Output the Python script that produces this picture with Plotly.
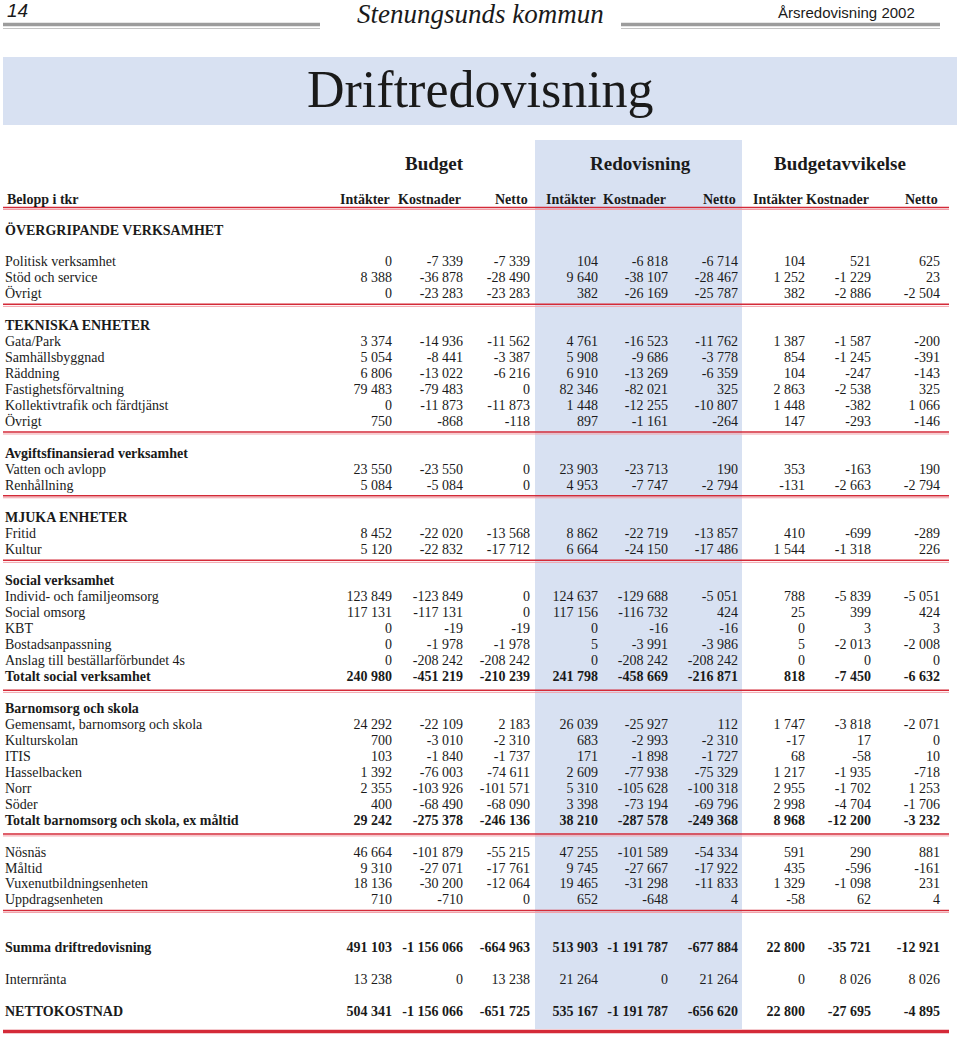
"""Driftredovisning - Stenungsunds kommun, Årsredovisning 2002 (sida 14)."""

import plotly.graph_objects as go

# ---------------------------------------------------------------------------
# Data (tkr)
# ---------------------------------------------------------------------------
ETIKETTER = [
    "ÖVERGRIPANDE VERKSAMHET",
    "Politisk verksamhet", "Stöd och service", "Övrigt",
    "TEKNISKA ENHETER",
    "Gata/Park", "Samhällsbyggnad", "Räddning", "Fastighetsförvaltning",
    "Kollektivtrafik och färdtjänst", "Övrigt",
    "Avgiftsfinansierad verksamhet",
    "Vatten och avlopp", "Renhållning",
    "MJUKA ENHETER",
    "Fritid", "Kultur",
    "Social verksamhet",
    "Individ- och familjeomsorg", "Social omsorg", "KBT", "Bostadsanpassning",
    "Anslag till beställarförbundet 4s", "Totalt social verksamhet",
    "Barnomsorg och skola",
    "Gemensamt, barnomsorg och skola", "Kulturskolan", "ITIS", "Hasselbacken",
    "Norr", "Söder", "Totalt barnomsorg och skola, ex måltid",
    "Nösnäs", "Måltid", "Vuxenutbildningsenheten", "Uppdragsenheten",
    "Summa driftredovisning", "Internränta", "NETTOKOSTNAD",
]

N = None
BUDGET_INTAKTER = [N, 0, 8388, 0, N, 3374, 5054, 6806, 79483, 0, 750, N, 23550, 5084,
                   N, 8452, 5120, N, 123849, 117131, 0, 0, 0, 240980, N, 24292, 700,
                   103, 1392, 2355, 400, 29242, 46664, 9310, 18136, 710,
                   491103, 13238, 504341]
BUDGET_KOSTNADER = [N, -7339, -36878, -23283, N, -14936, -8441, -13022, -79483, -11873,
                    -868, N, -23550, -5084, N, -22020, -22832, N, -123849, -117131, -19,
                    -1978, -208242, -451219, N, -22109, -3010, -1840, -76003, -103926,
                    -68490, -275378, -101879, -27071, -30200, -710,
                    -1156066, 0, -1156066]
BUDGET_NETTO = [N, -7339, -28490, -23283, N, -11562, -3387, -6216, 0, -11873, -118, N,
                0, 0, N, -13568, -17712, N, 0, 0, -19, -1978, -208242, -210239, N,
                2183, -2310, -1737, -74611, -101571, -68090, -246136, -55215, -17761,
                -12064, 0, -664963, 13238, -651725]
REDOV_INTAKTER = [N, 104, 9640, 382, N, 4761, 5908, 6910, 82346, 1448, 897, N, 23903,
                  4953, N, 8862, 6664, N, 124637, 117156, 0, 5, 0, 241798, N, 26039,
                  683, 171, 2609, 5310, 3398, 38210, 47255, 9745, 19465, 652,
                  513903, 21264, 535167]
REDOV_KOSTNADER = [N, -6818, -38107, -26169, N, -16523, -9686, -13269, -82021, -12255,
                   -1161, N, -23713, -7747, N, -22719, -24150, N, -129688, -116732, -16,
                   -3991, -208242, -458669, N, -25927, -2993, -1898, -77938, -105628,
                   -73194, -287578, -101589, -27667, -31298, -648,
                   -1191787, 0, -1191787]
REDOV_NETTO = [N, -6714, -28467, -25787, N, -11762, -3778, -6359, 325, -10807, -264, N,
               190, -2794, N, -13857, -17486, N, -5051, 424, -16, -3986, -208242,
               -216871, N, 112, -2310, -1727, -75329, -100318, -69796, -249368,
               -54334, -17922, -11833, 4, -677884, 21264, -656620]
AVV_INTAKTER = [N, 104, 1252, 382, N, 1387, 854, 104, 2863, 1448, 147, N, 353, -131,
                N, 410, 1544, N, 788, 25, 0, 5, 0, 818, N, 1747, -17, 68, 1217, 2955,
                2998, 8968, 591, 435, 1329, -58, 22800, 0, 22800]
AVV_KOSTNADER = [N, 521, -1229, -2886, N, -1587, -1245, -247, -2538, -382, -293, N,
                 -163, -2663, N, -699, -1318, N, -5839, 399, 3, -2013, 0, -7450, N,
                 -3818, 17, -58, -1935, -1702, -4704, -12200, 290, -596, -1098, 62,
                 -35721, 8026, -27695]
AVV_NETTO = [N, 625, 23, -2504, N, -200, -391, -143, 325, 1066, -146, N, 190, -2794,
             N, -289, 226, N, -5051, 424, 3, -2008, 0, -6632, N, -2071, 0, 10, -718,
             1253, -1706, -3232, 881, -161, 231, 4, -12921, 8026, -4895]

KOLUMNER = [BUDGET_INTAKTER, BUDGET_KOSTNADER, BUDGET_NETTO,
            REDOV_INTAKTER, REDOV_KOSTNADER, REDOV_NETTO,
            AVV_INTAKTER, AVV_KOSTNADER, AVV_NETTO]
KOLUMN_RUBRIKER = ["Intäkter", "Kostnader", "Netto"] * 3
GRUPPER = ["Budget", "Redovisning", "Budgetavvikelse"]

# ---------------------------------------------------------------------------
# Layout (sidpixlar)
# ---------------------------------------------------------------------------
W, H = 960, 1039
SERIF = "Liberation Serif, Times New Roman, serif"
SANS_SMAL = "Liberation Sans Narrow, Liberation Sans, Arial, sans-serif"
TINTA = "#1a1a1a"
BLA = "#d8e1f2"
ROD = "#d42a38"
ROSA = "#f2a0a8"
GRA = "#9c9c9c"

# radplats för varje etikett (i radsteg)
PLATS = [0, 2, 3, 4, 6, 7, 8, 9, 10, 11, 12, 14, 15, 16, 18, 19, 20, 22, 23, 24, 25,
         26, 27, 28, 30, 31, 32, 33, 34, 35, 36, 37, 39, 40, 41, 42, 45, 47, 49]
FETA = {0, 4, 11, 14, 17, 23, 24, 31, 36, 38}
Y0, STEG = 231, 15.95
LINJER = [4.6, 12.6, 16.6, 20.65, 28.8, 37.8, 42.6]
KOL_X = [392, 463, 530, 598, 668, 738, 805, 871, 940]   # högerkant per kolumn


def fmt(v):
    if v is None:
        return ""
    return f"{v:,}".replace(",", " ")


def radtext(i, s):
    return f"<b>{s}</b>" if (i in FETA and s) else s


ys = [Y0 + p * STEG for p in PLATS]

fig = go.Figure()

# etiketter
fig.add_trace(go.Scatter(
    x=[5] * len(ETIKETTER), y=ys, mode="text",
    text=[radtext(i, t) for i, t in enumerate(ETIKETTER)],
    textposition="middle right", textfont=dict(family=SERIF, size=14, color=TINTA),
    hoverinfo="skip", showlegend=False, cliponaxis=False,
))
# sifferkolumner
for kx, kol in zip(KOL_X, KOLUMNER):
    fig.add_trace(go.Scatter(
        x=[kx] * len(kol), y=ys, mode="text",
        text=[radtext(i, fmt(v)) for i, v in enumerate(kol)],
        textposition="middle left", textfont=dict(family=SERIF, size=14, color=TINTA),
        hoverinfo="skip", showlegend=False, cliponaxis=False,
    ))

shapes = [
    # titelband och redovisningsband
    dict(type="rect", x0=3, x1=957, y0=57, y1=125, fillcolor=BLA, line_width=0, layer="below"),
    dict(type="rect", x0=535, x1=742, y0=140, y1=1029, fillcolor=BLA, line_width=0, layer="below"),
    # grå linjer i sidhuvudet
    dict(type="line", x0=3, x1=320, y0=24.5, y1=24.5, line=dict(color=GRA, width=3.5)),
    dict(type="line", x0=3, x1=320, y0=28.5, y1=28.5, line=dict(color="#c4c4c4", width=1)),
    dict(type="line", x0=621, x1=940, y0=24.5, y1=24.5, line=dict(color=GRA, width=3.5)),
    dict(type="line", x0=621, x1=940, y0=28.5, y1=28.5, line=dict(color="#c4c4c4", width=1)),
    # rubriklinje
    dict(type="line", x0=3, x1=949, y0=207.5, y1=207.5, line=dict(color=ROD, width=1.5)),
    dict(type="line", x0=3, x1=949, y0=209.5, y1=209.5, line=dict(color=ROSA, width=1)),
    # slutlinje
    dict(type="line", x0=3, x1=949, y0=1031.5, y1=1031.5, line=dict(color=ROD, width=3.5)),
]
for p in LINJER:
    y = Y0 + p * STEG
    shapes.append(dict(type="line", x0=3, x1=949, y0=y, y1=y, line=dict(color=ROD, width=1.5)))
    shapes.append(dict(type="line", x0=3, x1=949, y0=y + 2, y1=y + 2, line=dict(color=ROSA, width=1)))

annotations = [
    dict(x=5, y=10, text="<i>14</i>", xanchor="left", showarrow=False,
         font=dict(family=SANS_SMAL, size=19, color=TINTA)),
    dict(x=480, y=14, text="<i>Stenungsunds kommun</i>", showarrow=False,
         font=dict(family=SERIF, size=27, color=TINTA)),
    dict(x=917, y=12, text="Årsredovisning 2002", xanchor="right", showarrow=False,
         font=dict(family=SANS_SMAL, size=15, color=TINTA)),
    dict(x=480, y=89, text="Driftredovisning", showarrow=False,
         font=dict(family=SERIF, size=52, color=TINTA)),
    dict(x=5, y=199, text="<b>Belopp i tkr</b>", xanchor="left", showarrow=False,
         font=dict(family=SERIF, size=14, color=TINTA)),
]
for g, cx in zip(GRUPPER, [434, 640, 840]):
    annotations.append(dict(x=cx, y=163, text=f"<b>{g}</b>", showarrow=False,
                            font=dict(family=SERIF, size=19, color=TINTA)))
for rub, kx in zip(KOLUMN_RUBRIKER, KOL_X):
    annotations.append(dict(x=kx, y=199, text=f"<b>{rub}</b>", xanchor="right",
                            showarrow=False, font=dict(family=SERIF, size=14, color=TINTA)))

fig.update_layout(
    width=W, height=H, margin=dict(l=0, r=0, t=0, b=0),
    paper_bgcolor="white", plot_bgcolor="white",
    xaxis=dict(range=[0, W], visible=False, fixedrange=True),
    yaxis=dict(range=[H, 0], visible=False, fixedrange=True),
    shapes=shapes, annotations=annotations,
)

# sidan ska börja i hörnet (ingen body-marginal)
fig.write_html("out.html", config={"displayModeBar": False},
               post_script="document.body.style.margin='0';")
